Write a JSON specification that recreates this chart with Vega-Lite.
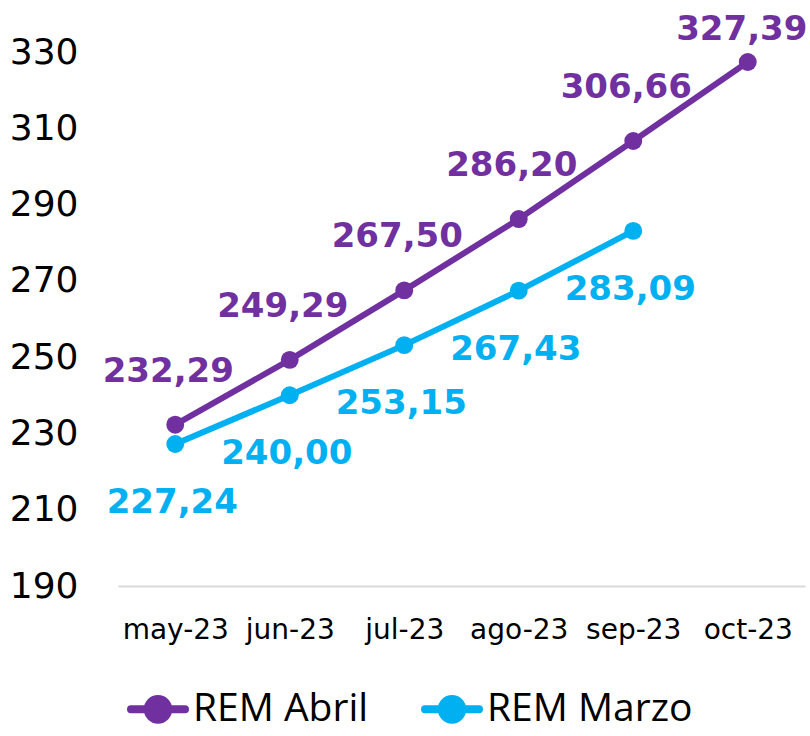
{
  "$schema": "https://vega.github.io/schema/vega-lite/v6.json",
  "width": 687,
  "height": 534,
  "autosize": {"type": "none"},
  "padding": {"left": 118, "top": 52, "right": 5, "bottom": 150},
  "background": "white",
  "config": {"view": {"stroke": null}, "font": "DejaVu Sans"},
  "data": {
    "values": [
      {"mes": "may-23", "serie": "REM Abril", "valor": 232.29, "etiqueta": "232,29"},
      {"mes": "jun-23", "serie": "REM Abril", "valor": 249.29, "etiqueta": "249,29"},
      {"mes": "jul-23", "serie": "REM Abril", "valor": 267.50, "etiqueta": "267,50"},
      {"mes": "ago-23", "serie": "REM Abril", "valor": 286.20, "etiqueta": "286,20"},
      {"mes": "sep-23", "serie": "REM Abril", "valor": 306.66, "etiqueta": "306,66"},
      {"mes": "oct-23", "serie": "REM Abril", "valor": 327.39, "etiqueta": "327,39"},
      {"mes": "may-23", "serie": "REM Marzo", "valor": 227.24, "etiqueta": "227,24"},
      {"mes": "jun-23", "serie": "REM Marzo", "valor": 240.00, "etiqueta": "240,00"},
      {"mes": "jul-23", "serie": "REM Marzo", "valor": 253.15, "etiqueta": "253,15"},
      {"mes": "ago-23", "serie": "REM Marzo", "valor": 267.43, "etiqueta": "267,43"},
      {"mes": "sep-23", "serie": "REM Marzo", "valor": 283.09, "etiqueta": "283,09"}
    ]
  },
  "encoding": {
    "x": {
      "field": "mes", "type": "ordinal",
      "sort": ["may-23", "jun-23", "jul-23", "ago-23", "sep-23", "oct-23"],
      "scale": {"padding": 0.5},
      "axis": {"title": null, "domain": true, "domainColor": "#d9d9d9", "domainWidth": 2, "ticks": false,
               "labelFontSize": 28, "labelPadding": 30, "labelAngle": 0, "labelColor": "black", "labelFont": "DejaVu Sans"}
    },
    "y": {
      "field": "valor", "type": "quantitative",
      "scale": {"domain": [190, 330], "nice": false, "zero": false},
      "axis": {"title": null, "values": [190, 210, 230, 250, 270, 290, 310, 330], "domain": false, "ticks": false, "grid": false,
               "labelFontSize": 36, "labelPadding": 40, "labelColor": "black", "labelFont": "DejaVu Sans"}
    },
    "color": {
      "field": "serie", "type": "nominal",
      "scale": {"domain": ["REM Abril", "REM Marzo"], "range": ["#7030A0", "#00B0F0"]},
      "legend": {
        "title": null, "orient": "none", "direction": "horizontal", "legendX": 9, "legendY": 626,
        "labelFontSize": 39, "labelColor": "black", "labelFont": "Open Sans", "labelOffset": 4, "labelLimit": 400,
        "columnPadding": 40, "padding": 0,
        "symbolType": "M-1,0L1,0M-0.38,0A0.38,0.38 0 1,1 0.38,0A0.38,0.38 0 1,1 -0.38,0Z",
        "symbolSize": 2916, "symbolStrokeWidth": 8,
        "encode": {"symbols": {"update": {"fill": {"scale": "color", "field": "value"}, "stroke": {"scale": "color", "field": "value"}, "strokeCap": {"value": "round"}}}}
      }
    }
  },
  "layer": [
    {"mark": {"type": "line", "strokeWidth": 6, "point": {"filled": true, "size": 320}}},
    {
      "transform": [{"filter": "datum.serie == 'REM Abril' && datum.mes != 'oct-23'"}],
      "mark": {"type": "text", "fontSize": 34, "fontWeight": "bold", "dx": -7, "dy": -53, "font": "DejaVu Sans"},
      "encoding": {"text": {"field": "etiqueta"}}
    },
    {
      "transform": [{"filter": "datum.serie == 'REM Abril' && datum.mes == 'oct-23'"}],
      "mark": {"type": "text", "fontSize": 34, "fontWeight": "bold", "dx": -6, "dy": -32, "font": "DejaVu Sans"},
      "encoding": {"text": {"field": "etiqueta"}}
    },
    {
      "transform": [{"filter": "datum.serie == 'REM Marzo'"}],
      "mark": {"type": "text", "fontSize": 34, "fontWeight": "bold", "dx": -3, "dy": 59, "font": "DejaVu Sans"},
      "encoding": {"text": {"field": "etiqueta"}}
    }
  ]
}
